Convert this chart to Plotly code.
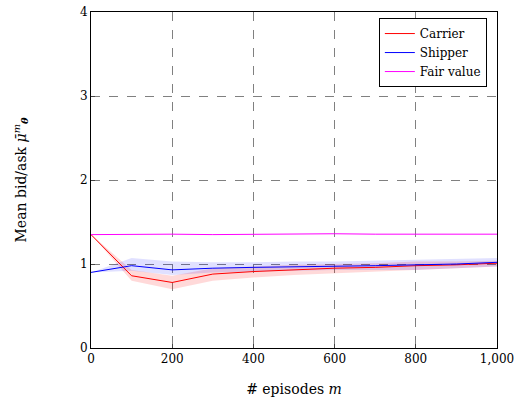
import plotly.graph_objects as go

episodes = [0, 100, 200, 300, 400, 500, 600, 700, 800, 900, 1000]
carrier = [1.35, 0.86, 0.78, 0.88, 0.91, 0.93, 0.95, 0.96, 0.98, 0.99, 1.01]
carrier_lo = [1.35, 0.80, 0.70, 0.80, 0.84, 0.87, 0.89, 0.91, 0.93, 0.95, 0.97]
carrier_hi = [1.35, 0.93, 0.86, 0.95, 0.97, 0.99, 1.00, 1.01, 1.03, 1.03, 1.04]
shipper = [0.90, 0.98, 0.93, 0.95, 0.96, 0.965, 0.97, 0.98, 0.99, 1.00, 1.02]
shipper_lo = [0.90, 0.92, 0.87, 0.90, 0.91, 0.92, 0.93, 0.93, 0.93, 0.95, 0.97]
shipper_hi = [0.90, 1.07, 1.03, 1.02, 1.02, 1.03, 1.03, 1.04, 1.05, 1.06, 1.07]
fair = [1.35, 1.355, 1.355, 1.35, 1.355, 1.355, 1.36, 1.355, 1.355, 1.355, 1.355]

font = "DejaVu Serif"
fig = go.Figure()

def band(lo, hi, color):
    fig.add_trace(go.Scatter(x=episodes + episodes[::-1], y=hi + lo[::-1], fill="toself",
                             fillcolor=color, line=dict(width=0), mode="lines",
                             showlegend=False, hoverinfo="skip"))

band(carrier_lo, carrier_hi, "rgba(255,0,0,0.15)")
band(shipper_lo, shipper_hi, "rgba(0,0,255,0.12)")

fig.add_trace(go.Scatter(x=episodes, y=carrier, mode="lines", name="Carrier",
                         line=dict(color="red", width=1)))
fig.add_trace(go.Scatter(x=episodes, y=shipper, mode="lines", name="Shipper",
                         line=dict(color="blue", width=1)))
fig.add_trace(go.Scatter(x=episodes, y=fair, mode="lines", name="Fair value",
                         line=dict(color="magenta", width=1)))

fig.update_layout(
    width=515, height=405,
    margin=dict(l=91, r=18, t=12, b=57, autoexpand=False),
    plot_bgcolor="white", paper_bgcolor="white",
    font=dict(family=font, size=12, color="black"),
    legend=dict(x=0.975, y=0.982, xanchor="right", yanchor="top",
                bordercolor="black", borderwidth=1, bgcolor="white",
                font=dict(size=12), tracegroupgap=0),
    xaxis=dict(range=[0, 1000], tickvals=[0, 200, 400, 600, 800, 1000],
               ticktext=["0", "200", "400", "600", "800", "1,000"],
               showgrid=True, gridcolor="gray", griddash="dash", gridwidth=1,
               showline=True, linecolor="black", linewidth=1, mirror=True,
               ticks="inside", ticklen=4, zeroline=False, automargin=False,
               title=dict(text="# episodes <i>m</i>", standoff=18)),
    yaxis=dict(range=[0, 4], tickvals=[0, 1, 2, 3, 4],
               showgrid=True, gridcolor="gray", griddash="dash", gridwidth=1,
               showline=True, linecolor="black", linewidth=1, mirror=True,
               ticks="inside", ticklen=4, zeroline=False, automargin=False,
               title=dict(text="Mean bid/ask <i>μ̄</i><sup><i>m</i></sup><sub><b><i>θ</i></b></sub>", standoff=50)),
)

fig.write_html("out.html")
